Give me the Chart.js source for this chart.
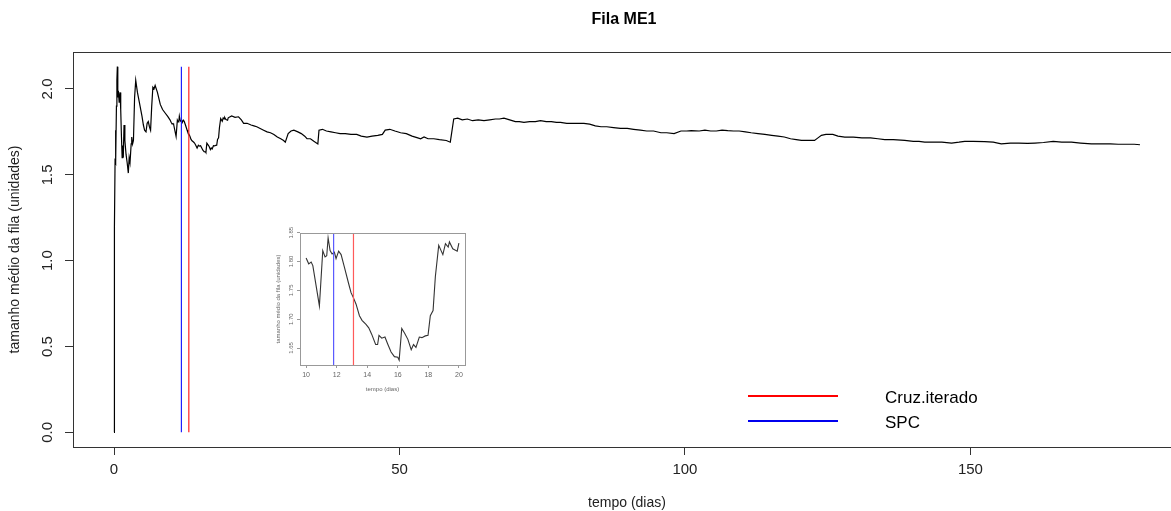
<!DOCTYPE html>
<html>
<head>
<meta charset="utf-8">
<script src="https://cdn.jsdelivr.net/npm/chart.js@4.4.1/dist/chart.umd.min.js"></script>
<style>
  html, body { margin: 0; padding: 0; background: #fff; overflow: hidden; }
  #wrap { position: relative; width: 1171px; height: 511px; overflow: hidden; }
  #main { position: absolute; left: 0; top: 0; }
  #inset { position: absolute; left: 262px; top: 222px; }
</style>
</head>
<body>
<div id="wrap">
  <canvas id="main" width="1190" height="511"></canvas>
  <canvas id="inset" width="210" height="180"></canvas>
</div>
<script>
// dados: tempo (dias) e tamanho médio da fila
const tempo = [
  0, 0.02, 0.04, 0.07, 0.09, 0.12, 0.18, 0.25, 0.32, 0.42, 0.5, 0.58, 0.66, 0.76, 0.9,
  1.05, 1.17, 1.3, 1.42, 1.52, 1.62, 1.75, 1.9, 2.1, 2.3, 2.5, 2.65, 2.8, 3.0, 3.1,
  3.25, 3.4, 3.6, 3.8, 4.1, 4.56, 4.9, 5.14, 5.35, 5.6, 5.8, 6.0, 6.2, 6.4, 6.6,
  6.8, 7.0, 7.2, 7.6, 8.1, 8.5, 8.95, 9.4, 9.8,
  10.0, 10.17, 10.33, 10.44, 10.87, 11.09, 11.24, 11.35, 11.44, 11.57, 11.7, 11.85, 11.96,
  12.13, 12.29, 12.51, 12.79, 12.94, 13.1, 13.27, 13.49, 13.66, 13.92, 14.1, 14.29, 14.55,
  14.68, 14.77, 14.95, 15.16, 15.34, 15.56, 15.78, 16.0, 16.09, 16.26, 16.44, 16.66, 16.88,
  17.03, 17.19, 17.41, 17.58, 17.8, 17.98, 18.13, 18.31, 18.46, 18.68, 18.95, 19.12, 19.3,
  19.38, 19.6, 19.89, 20.0,
  20.6, 21.2, 21.8, 22.3, 22.7, 23.3, 24.0, 24.5, 25.0, 25.6, 26.2, 26.8, 27.4, 28.0,
  28.6, 29.2, 29.7, 30.0, 30.5, 31.0, 31.5, 32.2, 32.8, 33.4, 33.8, 34.4, 35.0, 35.7,
  35.9, 36.5, 37.2, 38.0, 38.8, 39.6, 40.5, 41.5, 42.5, 43.3, 44.3, 45.2, 46.2, 47.0,
  47.5, 48.3, 49.2, 50.2, 51.2, 52.2, 53.2, 53.7, 54.3, 55.0, 56.0, 57.0, 58.2, 58.9,
  59.5, 60.2, 61.0, 61.9, 62.8, 63.8, 64.8, 65.8, 66.8, 67.5, 68.3, 69.3, 70.3, 71.0,
  71.8, 72.8, 73.8, 74.7, 75.7, 76.6, 77.5, 78.2, 79.3, 80.3, 81.3, 82.3, 83.3, 84.3,
  85.3, 86.3, 87.5, 88.7, 89.9, 91.0, 92.2, 93.3, 94.5, 95.8, 96.8, 98.1, 99.3, 100.3,
  101.1, 102.5, 103.5, 104.5, 105.5, 106.5, 107.5, 108.5, 109.5, 110.6, 111.6, 112.8,
  114, 115.2, 116.3, 117.4, 118.5, 119.5, 120.4, 121.5, 122.7, 123.3, 123.9, 124.7,
  125.9, 126.8, 128, 129.5, 131, 132.5, 133.8, 135, 136.5, 138.5, 140, 141, 142, 143.5,
  145, 146.7, 148, 149, 150.5, 152.5, 154, 155.4, 157, 158.5, 160, 161.3, 162.8, 164.5,
  166, 167.7, 169.3, 171.2, 173, 174.5, 175.9, 177.5, 178.7, 179.7
];
const fila = [
  0, 0.14, 0.63, 0.78, 0.98, 1.2, 1.58, 1.76, 1.57, 1.9, 2.05, 2.13, 1.95, 1.99, 1.92,
  1.98, 1.88, 1.72, 1.6, 1.67, 1.6, 1.79, 1.7, 1.62, 1.57, 1.51, 1.6, 1.57, 1.68, 1.72,
  1.68, 1.70, 1.95, 2.05, 1.98, 1.90, 1.84, 1.79, 1.76, 1.75, 1.80, 1.81, 1.78, 1.76, 1.9,
  2.01, 2.0, 2.02, 1.98, 1.91, 1.88, 1.86, 1.84, 1.82,
  1.806, 1.796, 1.799, 1.793, 1.723, 1.819, 1.808, 1.81, 1.841, 1.819, 1.813, 1.816, 1.805,
  1.818, 1.812, 1.79, 1.761, 1.746, 1.737, 1.726, 1.706, 1.698, 1.691, 1.685, 1.674, 1.656,
  1.656, 1.672, 1.667, 1.669, 1.657, 1.643, 1.635, 1.634, 1.629, 1.684, 1.676, 1.665, 1.647,
  1.656, 1.651, 1.669, 1.668, 1.671, 1.672, 1.706, 1.715, 1.774, 1.828, 1.812, 1.831, 1.825,
  1.834, 1.822, 1.818, 1.832,
  1.843, 1.835, 1.838, 1.82, 1.80, 1.80, 1.79, 1.785, 1.78, 1.77, 1.76, 1.75, 1.745, 1.735,
  1.72, 1.71, 1.70, 1.69, 1.74, 1.755, 1.76, 1.75, 1.74, 1.725, 1.71, 1.71, 1.695, 1.68,
  1.76, 1.765, 1.755, 1.75, 1.745, 1.74, 1.74, 1.735, 1.735, 1.725, 1.72, 1.725, 1.73, 1.735,
  1.76, 1.765, 1.755, 1.745, 1.74, 1.725, 1.715, 1.71, 1.72, 1.71, 1.71, 1.705, 1.70, 1.69,
  1.825, 1.83, 1.82, 1.825, 1.815, 1.82, 1.815, 1.82, 1.825, 1.825, 1.83, 1.82, 1.81, 1.81,
  1.805, 1.81, 1.81, 1.815, 1.81, 1.81, 1.805, 1.805, 1.80, 1.80, 1.80, 1.80, 1.795, 1.785,
  1.78, 1.78, 1.775, 1.77, 1.77, 1.765, 1.76, 1.755, 1.755, 1.745, 1.745, 1.74, 1.755, 1.755,
  1.757, 1.755, 1.76, 1.755, 1.755, 1.76, 1.757, 1.755, 1.755, 1.75, 1.745, 1.74,
  1.735, 1.73, 1.725, 1.72, 1.71, 1.705, 1.70, 1.70, 1.70, 1.715, 1.73, 1.735,
  1.735, 1.725, 1.72, 1.72, 1.715, 1.715, 1.71, 1.705, 1.705, 1.70, 1.695, 1.695, 1.69, 1.69,
  1.69, 1.685, 1.69, 1.695, 1.695, 1.693, 1.69, 1.68, 1.685, 1.685, 1.683, 1.685, 1.688, 1.695,
  1.69, 1.69, 1.685, 1.68, 1.68, 1.68, 1.678, 1.678, 1.678, 1.675
];

// linhas verticais (dias)
const spcDia = 11.8;
const cruzDia = 13.1;

const xTicks = [0, 50, 100, 150];
const yTicks = [0, 0.5, 1.0, 1.5, 2.0];
const insetJanela = [10, 20];
const insetXTicks = [10, 12, 14, 16, 18, 20];
const insetYTicks = [1.65, 1.70, 1.75, 1.80, 1.85];

const FONT = "'Liberation Sans', Arial, sans-serif";

// faixa estilo R (4% de folga)
function faixa(vals) {
  const lo = Math.min(...vals), hi = Math.max(...vals);
  const pad = (hi - lo) * 0.04;
  return [lo - pad, hi + pad];
}

const pontos = tempo.map((t, i) => ({ x: t, y: fila[i] }));
const filaMax = Math.max(...fila);
const [xMin, xMax] = faixa(tempo);
const [yMin, yMax] = faixa(fila);

const insetPontos = pontos.filter(p => p.x >= insetJanela[0] && p.x <= insetJanela[1]);
const [ixMin, ixMax] = faixa(insetJanela);
const [iyMin, iyMax] = faixa(insetPontos.map(p => p.y));

function vLine(dia, y0, y1) {
  return [{ x: dia, y: y0 }, { x: dia, y: y1 }];
}

// desenha caixa, rótulos do eixo y (girados), títulos e legenda
function moldura(opts) {
  return {
    id: "moldura",
    afterDraw(chart) {
      const ctx = chart.ctx;
      const a = chart.chartArea;
      const ys = chart.scales.y;
      ctx.save();
      ctx.strokeStyle = opts.boxColor;
      ctx.lineWidth = 1;
      ctx.strokeRect(Math.round(a.left) + 0.5, Math.round(a.top) + 0.5,
        Math.round(a.right - a.left), Math.round(a.bottom - a.top));

      ctx.fillStyle = opts.textColor;
      ctx.font = opts.tickFont;
      ctx.textAlign = "center";
      ctx.textBaseline = "middle";
      opts.yTicks.forEach(v => {
        ctx.save();
        ctx.translate(opts.yLabelX, ys.getPixelForValue(v));
        ctx.rotate(-Math.PI / 2);
        ctx.fillText(v.toFixed(opts.decimals), 0, 0);
        ctx.restore();
      });

      const cx = (a.left + a.right) / 2;
      const cy = (a.top + a.bottom) / 2;
      ctx.font = opts.labFont;
      ctx.fillText("tempo (dias)", opts.xTitleX || cx, opts.xTitleY);
      ctx.save();
      ctx.translate(opts.yTitleX, cy);
      ctx.rotate(-Math.PI / 2);
      ctx.fillText("tamanho médio da fila (unidades)", 0, 0);
      ctx.restore();

      if (opts.main) {
        ctx.font = "bold 16px " + FONT;
        ctx.fillStyle = "#000";
        ctx.fillText("Fila ME1", 624, 20);

        ctx.lineWidth = 2;
        ctx.strokeStyle = "#ff0000";
        ctx.beginPath(); ctx.moveTo(748, 396); ctx.lineTo(838, 396); ctx.stroke();
        ctx.strokeStyle = "#0000ee";
        ctx.beginPath(); ctx.moveTo(748, 421); ctx.lineTo(838, 421); ctx.stroke();
        ctx.font = "17px " + FONT;
        ctx.textAlign = "left";
        ctx.fillText("Cruz.iterado", 885, 398);
        ctx.fillText("SPC", 885, 423);
      }
      ctx.restore();
    }
  };
}

function eixos(o) {
  return {
    x: {
      type: "linear",
      min: o.xMin, max: o.xMax,
      afterBuildTicks: s => { s.ticks = o.xTicks.map(v => ({ value: v })); },
      afterFit: s => { s.height = o.xHeight; },
      border: { display: false },
      grid: { drawOnChartArea: false, drawTicks: true, tickLength: o.tickLen, color: o.boxColor },
      ticks: { color: o.textColor, font: o.tickFontObj, padding: o.xPad, maxRotation: 0,
        callback: v => String(v) }
    },
    y: {
      type: "linear",
      min: o.yMin, max: o.yMax,
      afterBuildTicks: s => { s.ticks = o.yTicks.map(v => ({ value: v })); },
      afterFit: s => { s.width = o.yWidth; },
      border: { display: false },
      grid: { drawOnChartArea: false, drawTicks: true, tickLength: o.tickLen, color: o.boxColor },
      ticks: { display: false }
    }
  };
}

const base = {
  responsive: false,
  animation: false,
  devicePixelRatio: 1,
  plugins: { legend: { display: false }, tooltip: { enabled: false }, title: { display: false } },
  elements: { point: { radius: 0 }, line: { tension: 0 } }
};

new Chart(document.getElementById("main"), {
  type: "line",
  data: {
    datasets: [
      { data: pontos, borderColor: "#000", borderWidth: 1.2, order: 2 },
      { data: vLine(spcDia, 0, filaMax), borderColor: "#2020ff", borderWidth: 1.2, order: 1 },
      { data: vLine(cruzDia, 0, filaMax), borderColor: "#ff2020", borderWidth: 1.2, order: 1 }
    ]
  },
  options: {
    ...base,
    layout: { padding: { top: 52, right: 9, bottom: 0, left: 0 } },
    scales: eixos({
      xMin, xMax, yMin, yMax, xTicks, yTicks,
      xHeight: 64, yWidth: 73, tickLen: 8, xPad: 6,
      boxColor: "#333", textColor: "#222",
      tickFontObj: { family: FONT, size: 15 }
    })
  },
  plugins: [moldura({
    main: true, boxColor: "#333", textColor: "#222", yTicks, decimals: 1,
    tickFont: "15px " + FONT, labFont: "14px " + FONT,
    yLabelX: 48, yTitleX: 15, xTitleY: 503
  })]
});

new Chart(document.getElementById("inset"), {
  type: "line",
  data: {
    datasets: [
      { data: insetPontos, borderColor: "#333", borderWidth: 1.1, order: 2 },
      { data: vLine(spcDia, iyMin, iyMax), borderColor: "#5a5aff", borderWidth: 1.2, order: 1 },
      { data: vLine(cruzDia, iyMin, iyMax), borderColor: "#ff5a5a", borderWidth: 1.2, order: 1 }
    ]
  },
  options: {
    ...base,
    layout: { padding: { top: 11, right: 7, bottom: 0, left: 0 } },
    scales: eixos({
      xMin: ixMin, xMax: ixMax, yMin: iyMin, yMax: iyMax,
      xTicks: insetXTicks, yTicks: insetYTicks,
      xHeight: 37, yWidth: 38, tickLen: 3, xPad: 3,
      boxColor: "#999", textColor: "#666",
      tickFontObj: { family: FONT, size: 7 }
    })
  },
  plugins: [moldura({
    main: false, boxColor: "#999", textColor: "#666", yTicks: insetYTicks, decimals: 2,
    tickFont: "6px " + FONT, labFont: "6px " + FONT,
    yLabelX: 29, yTitleX: 16, xTitleY: 167
  })]
});
</script>
</body>
</html>
